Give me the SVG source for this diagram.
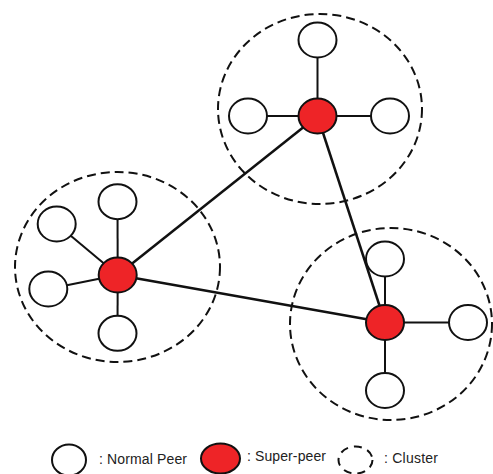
<svg xmlns="http://www.w3.org/2000/svg" width="493" height="474" viewBox="0 0 493 474">
<style>
.cluster{fill:none;stroke:#111;stroke-width:2;stroke-dasharray:9 5}
.peer{fill:#fff;stroke:#111;stroke-width:2}
.super{fill:#ee2427;stroke:#111;stroke-width:2}
.link{stroke:#111;stroke-width:2;fill:none}
.main{stroke-width:2.5}
.lbl{font-family:"Liberation Sans",Arial,sans-serif;font-size:14px;fill:#222}
</style>
<rect width="493" height="474" fill="#fff"/>
<g id="clusters">
<ellipse id="cluster-top" class="cluster" cx="320" cy="109" rx="102" ry="95"/>
<ellipse id="cluster-left" class="cluster" cx="117.5" cy="267" rx="102.5" ry="95"/>
<ellipse id="cluster-right" class="cluster" cx="391" cy="324" rx="101" ry="96"/>
</g>
<g id="connectors" class="link">
<line class="main" x1="317.5" y1="116" x2="117.7" y2="275"/>
<line class="main" x1="317.5" y1="116" x2="385" y2="322.5"/>
<line class="main" x1="117.7" y1="275" x2="385" y2="322.5"/>
<line x1="317.5" y1="116" x2="317.5" y2="40"/>
<line x1="317.5" y1="116" x2="248" y2="116"/>
<line x1="317.5" y1="116" x2="390" y2="116"/>
<line x1="117.7" y1="275" x2="117.5" y2="201.7"/>
<line x1="117.7" y1="275" x2="56.7" y2="224"/>
<line x1="117.7" y1="275" x2="48.3" y2="289"/>
<line x1="117.7" y1="275" x2="117.5" y2="333.3"/>
<line x1="385" y1="322.5" x2="385" y2="259"/>
<line x1="385" y1="322.5" x2="468" y2="322.5"/>
<line x1="385" y1="322.5" x2="385" y2="390.5"/>
</g>
<g id="peer-t1"><ellipse class="peer" cx="317.5" cy="40" rx="19" ry="17.5"/></g>
<g id="peer-t2"><ellipse class="peer" cx="248" cy="116" rx="19" ry="17.5"/></g>
<g id="peer-t3"><ellipse class="peer" cx="390" cy="116" rx="19" ry="17.5"/></g>
<g id="super-top"><ellipse class="super" cx="317.5" cy="116" rx="19" ry="17.5"/></g>
<g id="peer-l1"><ellipse class="peer" cx="117.5" cy="201.7" rx="19" ry="17.5"/></g>
<g id="peer-l2"><ellipse class="peer" cx="56.7" cy="224" rx="19" ry="17.5"/></g>
<g id="peer-l3"><ellipse class="peer" cx="48.3" cy="289" rx="19" ry="17.5"/></g>
<g id="peer-l4"><ellipse class="peer" cx="117.5" cy="333.3" rx="19" ry="17.5"/></g>
<g id="super-left"><ellipse class="super" cx="117.7" cy="275" rx="19" ry="17.5"/></g>
<g id="peer-r1"><ellipse class="peer" cx="385" cy="259" rx="19" ry="17.5"/></g>
<g id="peer-r2"><ellipse class="peer" cx="468" cy="322.5" rx="19" ry="17.5"/></g>
<g id="peer-r3"><ellipse class="peer" cx="385" cy="390.5" rx="19" ry="17.5"/></g>
<g id="super-right"><ellipse class="super" cx="385" cy="322.5" rx="19" ry="17.5"/></g>
<g id="legend">
<ellipse class="peer" cx="69" cy="460" rx="17" ry="15.5"/>
<text class="lbl" x="99" y="464" textLength="88">: Normal Peer</text>
<ellipse class="super" cx="220.5" cy="458.5" rx="19.5" ry="15"/>
<text class="lbl" x="247" y="461" textLength="79">: Super-peer</text>
<ellipse class="cluster" cx="355.5" cy="460" rx="17" ry="13.5" style="stroke-dasharray:8 6"/>
<text class="lbl" x="384" y="463" textLength="54">: Cluster</text>
</g>
</svg>
